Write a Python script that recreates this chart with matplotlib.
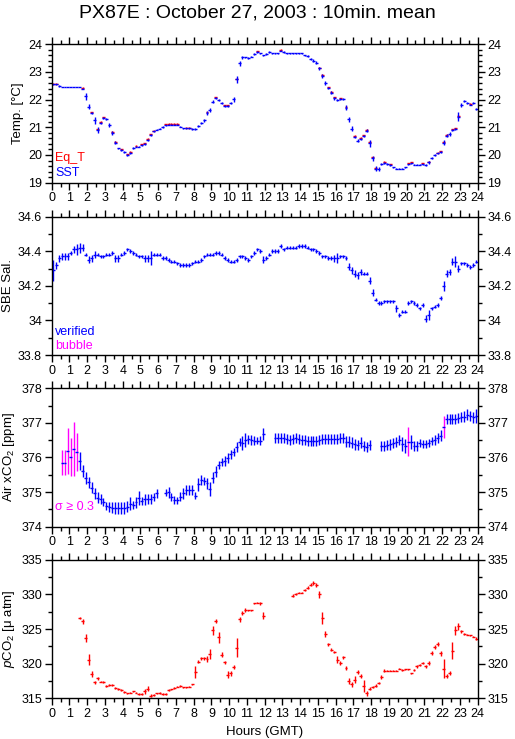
import numpy as np
import matplotlib
matplotlib.use("Agg")
import matplotlib.pyplot as plt
from matplotlib.ticker import MultipleLocator

plt.rcParams['font.family'] = ['Liberation Sans', 'DejaVu Sans']
plt.rcParams['mathtext.fontset'] = 'custom'
plt.rcParams['mathtext.rm'] = 'Liberation Sans'
plt.rcParams['mathtext.it'] = 'Liberation Sans:italic'

nan = np.nan

# 10-minute slots, one row per hour (hh:05, hh:15, ... hh:55)
sst = [
    22.55, 22.55, 22.50, 22.45, 22.45, 22.45,
    22.45, 22.45, 22.45, 22.45, 22.40, 22.12,
    21.75, 21.52, 21.25, 20.90, 21.17, 21.33,
    21.30, 21.08, 20.80, 20.45, 20.24, 20.18,
    20.10, 20.00, 20.08, 20.26, 20.30, 20.30,
    20.35, 20.40, 20.55, 20.72, 20.85, 20.92,
    20.95, 21.02, 21.08, 21.10, 21.10, 21.10,
    21.10, 21.02, 20.96, 20.96, 20.96, 20.95,
    20.93, 21.05, 21.15, 21.25, 21.52, 21.62,
    21.93, 22.05, 21.99, 21.87, 21.77, 21.77,
    21.87, 22.01, 22.73, 23.31, 23.53, 23.53,
    23.50, 23.55, 23.65, 23.72, 23.67, 23.60,
    23.65, 23.72, 23.67, 23.67, 23.67, 23.77,
    23.72, 23.67, 23.67, 23.67, 23.67, 23.67,
    23.67, 23.60, 23.58, 23.48, 23.41, 23.34,
    23.13, 22.86, 22.61, 22.42, 22.25, 22.05,
    21.99, 22.02, 22.02, 21.71, 21.29, 20.95,
    20.66, 20.52, 20.59, 20.69, 20.88, 20.42,
    19.88, 19.50, 19.48, 19.67, 19.72, 19.67,
    19.64, 19.55, 19.50, 19.50, 19.50, 19.55,
    19.67, 19.70, 19.65, 19.65, 19.65, 19.67,
    19.65, 19.73, 19.89, 20.00, 20.06, 20.11,
    20.45, 20.70, 20.76, 20.90, 20.94, 21.39,
    21.81, 21.96, 21.89, 21.82, 21.87, 21.67,
]
sst_err = [
    .01, .01, .03, .01, .01, .01,
    .01, .01, .01, .01, .02, .12,
    .08, .03, .12, .10, .04, .04,
    .04, .06, .08, .04, .03, .03,
    .03, .02, .03, .03, .02, .02,
    .02, .03, .04, .03, .03, .03,
    .02, .03, .02, .01, .01, .01,
    .01, .02, .03, .02, .02, .03,
    .03, .04, .04, .05, .06, .08,
    .06, .03, .04, .03, .02, .02,
    .04, .08, .14, .10, .05, .02,
    .03, .02, .04, .03, .02, .02,
    .02, .02, .02, .02, .02, .02,
    .02, .02, .02, .01, .01, .01,
    .02, .03, .04, .04, .04, .05,
    .06, .07, .07, .05, .06, .05,
    .03, .03, .03, .08, .08, .08,
    .04, .04, .04, .05, .06, .12,
    .10, .09, .07, .04, .03, .03,
    .03, .03, .02, .02, .02, .02,
    .02, .02, .02, .02, .02, .02,
    .03, .04, .03, .03, .03, .03,
    .08, .05, .06, .04, .03, .15,
    .08, .03, .03, .03, .03, .04,
]
eq_t = [
    22.58, 22.58, nan, nan, nan, nan,
    nan, nan, nan, nan, 22.43, nan,
    nan, 21.55, nan, 20.93, 21.20, 21.36,
    nan, nan, 20.83, 20.48, nan, 20.21,
    nan, 20.03, 20.11, nan, 20.33, nan,
    20.38, 20.43, 20.58, 20.75, 20.88, nan,
    nan, nan, 21.11, 21.13, 21.13, 21.13,
    21.13, nan, nan, 20.98, 20.98, nan,
    nan, nan, nan, nan, 21.55, nan,
    nan, 22.08, nan, nan, 21.80, 21.80,
    nan, nan, 22.76, nan, nan, nan,
    nan, nan, nan, 23.75, nan, nan,
    nan, nan, nan, nan, nan, 23.80,
    nan, nan, nan, nan, nan, nan,
    nan, nan, nan, nan, nan, nan,
    23.16, 22.89, nan, 22.45, 22.28, 22.08,
    nan, 22.05, nan, 21.74, nan, nan,
    20.69, nan, 20.62, 20.72, 20.91, 20.47,
    19.91, 19.53, nan, nan, 19.75, nan,
    19.67, nan, nan, nan, nan, nan,
    19.70, 19.73, nan, nan, nan, 19.70,
    nan, 19.76, nan, nan, 20.09, 20.14,
    20.48, 20.73, nan, 20.93, 20.97, 21.42,
    nan, nan, nan, 21.85, nan, nan,
]

sal = [
    34.29, 34.32, 34.36, 34.37, 34.37, 34.37,
    34.39, 34.41, 34.41, 34.42, 34.42, 34.38,
    34.35, 34.36, 34.38, 34.38, 34.37, 34.37,
    34.38, 34.38, 34.39, 34.36, 34.36, 34.38,
    34.39, 34.41, 34.40, 34.39, 34.38, 34.37,
    34.37, 34.36, 34.36, 34.36, 34.38, 34.38,
    34.38, 34.36, 34.36, 34.35, 34.34, 34.34,
    34.33, 34.32, 34.32, 34.32, 34.32, 34.33,
    34.34, 34.34, 34.35, 34.37, 34.38, 34.38,
    34.38, 34.39, 34.39, 34.38, 34.36, 34.35,
    34.34, 34.34, 34.35, 34.37, 34.37, 34.36,
    34.35, 34.37, 34.39, 34.41, 34.40, 34.35,
    34.36, 34.38, 34.40, 34.40, 34.40, 34.43,
    34.41, 34.42, 34.42, 34.42, 34.42, 34.43,
    34.43, 34.43, 34.42, 34.41, 34.41, 34.40,
    34.39, 34.37, 34.37, 34.36, 34.36, 34.36,
    34.36, 34.37, 34.37, 34.36, 34.31, 34.29,
    34.27, 34.26, 34.28, 34.27, 34.27, 34.23,
    34.16, 34.12, 34.10, 34.10, 34.11, 34.11,
    34.11, 34.11, 34.07, 34.03, 34.05, 34.05,
    34.10, 34.11, 34.10, 34.09, 34.07, 34.09,
    34.01, 34.03, 34.07, 34.08, 34.09, 34.13,
    34.20, 34.27, 34.28, 34.34, 34.34, 34.30,
    34.33, 34.33, 34.32, 34.31, 34.32, 34.34,
]
sal_err = [
    .06, .02, .02, .02, .02, .02,
    .01, .02, .03, .03, .02, .01,
    .02, .02, .02, .01, .01, .01,
    .01, .01, .01, .02, .02, .01,
    .01, .01, .01, .01, .01, .01,
    .01, .02, .02, .04, .01, .01,
    .01, .01, .01, .01, .01, .01,
    .01, .01, .01, .01, .01, .01,
    .01, .01, .01, .01, .01, .01,
    .01, .01, .01, .01, .01, .01,
    .01, .01, .01, .01, .01, .01,
    .01, .01, .01, .01, .01, .02,
    .01, .01, .01, .01, .01, .01,
    .01, .01, .01, .01, .01, .01,
    .01, .01, .01, .01, .01, .01,
    .01, .01, .01, .01, .01, .02,
    .03, .01, .01, .01, .02, .02,
    .02, .02, .02, .01, .01, .02,
    .02, .01, .01, .01, .01, .01,
    .01, .01, .02, .01, .01, .01,
    .01, .01, .01, .01, .01, .01,
    .02, .03, .01, .01, .01, .01,
    .03, .02, .02, .02, .03, .02,
    .01, .01, .01, .01, .01, .01,
]

air_xco2 = [
    nan, nan, nan, 375.85, 375.85, 376.19,
    376.02, 376.25, 376.15, 375.90, 375.60, 375.40,
    375.28, 375.13, 374.96, 374.84, 374.80, 374.72,
    374.60, 374.57, 374.55, 374.53, 374.53, 374.53,
    374.55, 374.58, 374.67, 374.63, 374.70, 374.84,
    374.74, 374.79, 374.80, 374.80, 374.86, 374.96,
    nan, nan, 374.98, 374.99, 374.85, 374.77,
    374.77, 374.87, 374.96, 375.06, 375.06, 375.06,
    374.90, 375.22, 375.35, 375.32, 375.25, 375.10,
    375.42, 375.59, 375.78, 375.86, 375.90, 375.98,
    376.09, 376.15, 376.30, 376.44, 376.43, 376.51,
    376.52, 376.50, 376.49, 376.49, 376.49, 376.67,
    nan, nan, nan, 376.57, 376.56, 376.56,
    376.56, 376.53, 376.51, 376.53, 376.56, 376.54,
    376.51, 376.51, 376.48, 376.48, 376.48, 376.48,
    376.51, 376.54, 376.54, 376.54, 376.54, 376.54,
    376.54, 376.57, 376.57, 376.46, 376.46, 376.43,
    376.38, 376.36, 376.43, 376.33, 376.30, 376.36,
    nan, nan, nan, 376.33, 376.33, 376.36,
    376.38, 376.41, 376.44, 376.50, 376.38, 376.34,
    376.46, 376.44, 376.34, 376.34, 376.41, 376.39,
    376.38, 376.41, 376.48, 376.51, 376.56, 376.63,
    376.88, 377.11, 377.11, 377.11, 377.11, 377.14,
    377.17, 377.18, 377.24, 377.20, 377.16, 377.19,
]
air_err = [
    0, 0, 0, .37, .37, .67,
    .55, .78, .55, .25, .17, .17,
    .15, .15, .15, .15, .15, .12,
    .12, .15, .15, .17, .17, .17,
    .17, .15, .20, .12, .15, .20,
    .12, .15, .15, .15, .12, .12,
    0, 0, .10, .15, .12, .12,
    .10, .12, .15, .15, .15, .15,
    .10, .20, .15, .12, .15, .20,
    .15, .15, .12, .12, .15, .15,
    .12, .12, .15, .12, .20, .20,
    .12, .15, .12, .10, .12, .17,
    0, 0, 0, .15, .15, .15,
    .15, .15, .15, .15, .15, .15,
    .15, .15, .15, .15, .15, .15,
    .15, .15, .15, .15, .15, .15,
    .15, .15, .15, .15, .15, .15,
    .15, .15, .15, .15, .15, .15,
    0, 0, 0, .15, .15, .15,
    .15, .15, .15, .15, .20, .20,
    .43, .20, .15, .15, .12, .12,
    .12, .12, .12, .15, .15, .15,
    .32, .15, .15, .15, .15, .15,
    .15, .15, .15, .15, .15, .20,
]

pco2 = [
    nan, nan, nan, nan, nan, nan,
    nan, nan, nan, 326.6, 326.1, 323.7,
    320.6, 318.5, 317.3, 317.9, 317.4, 317.3,
    316.8, 316.9, 316.9, 316.5, 316.4, 316.2,
    315.9, 315.7, 315.8, 316.0, 315.8, 315.6,
    315.6, 316.0, 316.4, 315.4, 315.5, 315.7,
    315.75, 315.6, 315.6, 316.2, 316.3, 316.5,
    316.7, 316.8, 316.6, 316.6, 316.7, 317.0,
    318.8, 320.3, 320.8, 320.8, 320.7, 321.4,
    324.8, 326.2, 323.8, 321.3, 320.2, 318.4,
    318.6, 319.5, 322.3, 326.4, 327.3, 327.8,
    327.7, 327.7, 328.7, 328.8, 328.7, 326.9,
    nan, nan, nan, nan, nan, nan,
    nan, nan, nan, 329.8, 330.1, 330.25,
    330.25, 330.7, 331.0, 331.4, 331.7, 331.4,
    330.0, 326.6, 324.3, 322.8, 322.0, 321.7,
    320.6, 320.1, 320.9, 319.4, 317.5, 317.0,
    317.7, 318.8, 318.2, 316.8, 315.7, 316.4,
    316.6, 316.8, 317.2, 318.1, 319.0, 319.0,
    319.0, 319.0, 319.0, 319.3, 319.1, 319.2,
    319.2, 318.6, 319.1, 319.6, 319.8, 320.1,
    319.6, 320.1, 321.5, 322.4, 322.8, 321.5,
    319.3, 318.2, 318.6, 321.9, 324.8, 325.4,
    324.7, 324.3, 324.2, 324.1, 323.9, 323.6,
]
pco2_err = [
    0, 0, 0, 0, 0, 0,
    0, 0, 0, .15, .4, .6,
    .8, .4, .2, .2, .1, .15,
    .1, .1, .1, .2, .15, .1,
    .1, .1, .1, .1, .1, .1,
    .1, .4, .4, .2, .1, .1,
    .1, .1, .1, .1, .1, .1,
    .1, .1, .1, .1, .1, .1,
    .9, .2, .2, .2, .4, .7,
    .7, .3, .8, .4, .2, .5,
    .4, .3, 1.4, .4, .3, .3,
    .1, .1, .1, .1, .2, .5,
    0, 0, 0, 0, 0, 0,
    0, 0, 0, .2, .15, .1,
    .1, .15, .2, .2, .3, .3,
    .5, .9, .4, .2, .2, .2,
    .5, .3, .2, .3, .5, .3,
    .5, .3, .3, .9, .3, .2,
    .15, .2, .1, .3, .2, .1,
    .1, .1, .1, .1, .1, .1,
    .1, .1, .2, .2, .2, .1,
    .2, .3, .3, .3, .3, .4,
    1.4, .3, .3, 1.2, .6, .5,
    .2, .1, .1, .1, .1, .2,
]

hours = np.arange(144) / 6 + 1 / 12
half = 1 / 12
lw = 1.0

fig = plt.figure(figsize=(5.15, 7.39), dpi=100)
fig.text(0.5, 0.983, 'PX87E : October 27, 2003 : 10min. mean',
         ha='center', va='center', fontsize=14)

bottoms = [0.7528, 0.5196, 0.2873, 0.0551]
axes = [fig.add_axes([0.1004, b, 0.827, 0.1873]) for b in bottoms]


def bars(ax, y, err, color):
    ax.errorbar(hours, y, xerr=half, yerr=err, fmt='none', ecolor=color,
                elinewidth=lw, capsize=0)


# panel 1: temperatures
ax = axes[0]
bars(ax, eq_t, 0.02, 'red')
bars(ax, sst, sst_err, 'blue')
ax.set_ylim(19, 24)
ax.yaxis.set_major_locator(MultipleLocator(1))
ax.yaxis.set_minor_locator(MultipleLocator(0.2))
ax.set_ylabel('Temp. [°C]')
ax.text(0.008, 0.155, 'Eq_T', color='red', transform=ax.transAxes, fontsize=9)
ax.text(0.008, 0.05, 'SST', color='blue', transform=ax.transAxes, fontsize=9)

# panel 2: salinity
ax = axes[1]
bars(ax, sal, sal_err, 'blue')
ax.set_ylim(33.8, 34.6)
ax.yaxis.set_major_locator(MultipleLocator(0.2))
ax.yaxis.set_minor_locator(MultipleLocator(0.1))
ax.set_ylabel('SBE Sal.')
ax.text(0.008, 0.145, 'verified', color='blue', transform=ax.transAxes, fontsize=9)
ax.text(0.008, 0.045, 'bubble', color='magenta', transform=ax.transAxes, fontsize=9)

# panel 3: atmospheric xCO2, flagged where sigma >= 0.3
ax = axes[2]
air_y = np.array(air_xco2)
air_e = np.array(air_err)
flag = air_e >= 0.3
bars(ax, np.where(flag, nan, air_y), air_e, 'blue')
ax.errorbar(hours[flag], air_y[flag], yerr=air_e[flag], fmt='none',
            ecolor='magenta', elinewidth=lw, capsize=0)
ax.errorbar(hours[flag], air_y[flag], xerr=half, fmt='none',
            ecolor='blue', elinewidth=lw, capsize=0)
ax.set_ylim(374, 378)
ax.yaxis.set_major_locator(MultipleLocator(1))
ax.yaxis.set_minor_locator(MultipleLocator(0.5))
ax.set_ylabel('Air xCO$_2$ [ppm]')
ax.text(0.008, 0.12, 'σ ≥ 0.3', color='magenta', transform=ax.transAxes, fontsize=9)

# panel 4: seawater pCO2
ax = axes[3]
bars(ax, pco2, pco2_err, 'red')
ax.set_ylim(315, 335)
ax.yaxis.set_major_locator(MultipleLocator(5))
ax.yaxis.set_minor_locator(MultipleLocator(2.5))
ax.set_ylabel('$p$CO$_2$ [μ atm]')
ax.set_xlabel('Hours (GMT)', fontsize=9.5)

for ax in axes:
    ax.set_xlim(0, 24)
    ax.xaxis.set_major_locator(MultipleLocator(1))
    ax.xaxis.set_minor_locator(MultipleLocator(0.5))
    ax.tick_params(which='both', direction='out', top=True, right=True,
                   labelright=True, labelsize=9, width=1, pad=2)
    ax.tick_params(which='major', length=5)
    ax.tick_params(which='minor', length=3)
    ax.yaxis.set_major_formatter(plt.FuncFormatter(lambda v, p: f'{v:g}'))
    ax.yaxis.label.set_size(9.5)
    ax.yaxis.labelpad = 3
    for s in ax.spines.values():
        s.set_linewidth(1)

fig.savefig('out.png', dpi=100)
